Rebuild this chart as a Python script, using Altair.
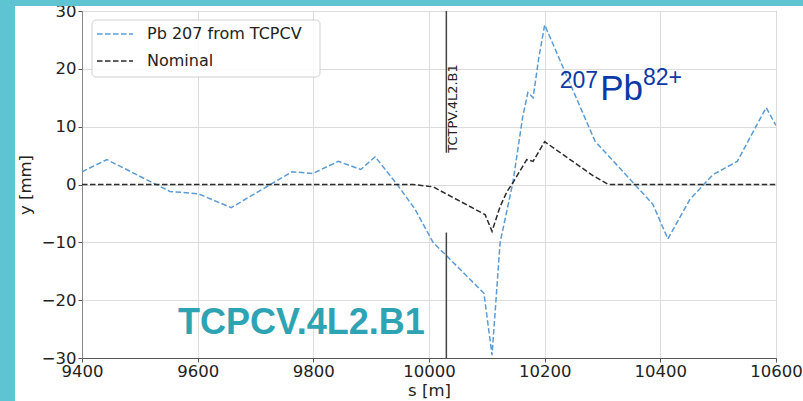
import altair as alt
import pandas as pd

# ---- data ----
s_pb = [9400, 9443, 9552, 9601, 9658, 9763, 9799, 9843, 9882, 9907, 9945, 9976,
        10007, 10095, 10109, 10123, 10145, 10162, 10171, 10180, 10190, 10200,
        10287, 10387, 10413, 10451, 10491, 10533, 10583, 10600]
y_pb = [2.2, 4.3, -1.2, -1.6, -4.0, 2.2, 1.9, 4.0, 2.6, 4.8, 0.0, -4.3,
        -10.0, -18.8, -29.5, -10.0, 0.3, 11.7, 15.9, 15.0, 22.0, 27.6,
        7.5, -3.4, -9.4, -2.6, 1.7, 4.0, 13.3, 10.2]

s_nom = [9400, 9972, 10007, 10097, 10109, 10123, 10135, 10145, 10169, 10180,
         10200, 10284, 10310, 10600]
y_nom = [0.0, 0.0, -0.4, -5.2, -8.1, -3.8, -1.2, 0.3, 4.3, 4.0,
         7.4, 1.5, 0.0, 0.0]

x_ticks = [9400, 9600, 9800, 10000, 10200, 10400, 10600]
y_ticks = [-30, -20, -10, 0, 10, 20, 30]

series_names = ["Pb 207 from TCPCV", "Nominal"]
series_colors = ["#5b9bd5", "#2b2b2b"]

marker_label = "TCTPV.4L2.B1"
marker_s = [10030, 10030]
marker_y_from = [30, -8.3]
marker_y_to = [5.5, -30]

TEAL = "#5ec4d2"
TEAL_TEXT = "#2ea3b3"
DARK_BLUE = "#0b39a6"

df_pb = pd.DataFrame({"s": s_pb, "y": y_pb})
df_nom = pd.DataFrame({"s": s_nom, "y": y_nom})
df_mark = pd.DataFrame({"s": marker_s, "y": marker_y_from, "y2": marker_y_to})
df_mtext = pd.DataFrame({"s": [marker_s[0]], "y": [marker_y_to[0]], "t": [marker_label]})

xscale = alt.Scale(domain=[9400, 10600], nice=False, zero=False)
yscale = alt.Scale(domain=[-30, 30], nice=False, zero=False)

X = alt.X("s:Q", scale=xscale,
          axis=alt.Axis(values=x_ticks, format="d", title="s [m]",
                        labelPadding=1, titlePadding=3, domainColor="#555",
                        labelFlush=False, labelOverlap=False, labelBound=False))
Y = alt.Y("y:Q", scale=yscale,
          axis=alt.Axis(values=y_ticks, format="d", title="y [mm]",
                        labelPadding=2, titlePadding=8, domainColor="#888",
                        labelFlush=False, labelOverlap=False, labelBound=False))

dash = [5.5, 2.5]

line_pb = alt.Chart(df_pb).mark_line(
    color=series_colors[0], strokeWidth=1.5, strokeDash=dash, clip=True
).encode(x=X, y=Y)

line_nom = alt.Chart(df_nom).mark_line(
    color=series_colors[1], strokeWidth=1.5, strokeDash=dash, clip=True
).encode(x="s:Q", y="y:Q")

rules = alt.Chart(df_mark).mark_rule(color="#444", strokeWidth=1.5).encode(
    x="s:Q", y="y:Q", y2="y2:Q")

mtext = alt.Chart(df_mtext).mark_text(
    angle=270, align="left", baseline="top", dy=1,
    font="DejaVu Sans", fontSize=13, color="#222"
).encode(x="s:Q", y="y:Q", text="t:N")

# annotations
ann_df = pd.DataFrame({
    "s": [9566, 10226, 10296, 10370],
    "y": [-25.9, 16.7, 14.66, 17.2],
    "t": ["TCPCV.4L2.B1", "207", "Pb", "82+"],
})
ann_tc = alt.Chart(ann_df.iloc[[0]]).mark_text(
    align="left", baseline="alphabetic", font="Liberation Sans",
    fontWeight="bold", fontSize=36, color=TEAL_TEXT
).encode(x="s:Q", y="y:Q", text="t:N")
ann_sup = alt.Chart(ann_df.iloc[[1, 3]]).mark_text(
    align="left", baseline="alphabetic", font="Liberation Sans",
    fontSize=23, color=DARK_BLUE
).encode(x="s:Q", y="y:Q", text="t:N")
ann_pb = alt.Chart(ann_df.iloc[[2]]).mark_text(
    align="left", baseline="alphabetic", font="Liberation Sans",
    fontSize=35, color=DARK_BLUE
).encode(x="s:Q", y="y:Q", text="t:N")

# legend (drawn manually)
leg_box = alt.Chart().mark_rect(
    fill="white", fillOpacity=0.85, stroke="#d0d0d0", strokeWidth=1, cornerRadius=4
).encode(x=alt.value(10), x2=alt.value(238), y=alt.value(9), y2=alt.value(66))
leg_l1 = alt.Chart().mark_rule(color=series_colors[0], strokeWidth=1.5, strokeDash=dash).encode(
    x=alt.value(15), x2=alt.value(51), y=alt.value(23))
leg_l2 = alt.Chart().mark_rule(color=series_colors[1], strokeWidth=1.5, strokeDash=dash).encode(
    x=alt.value(15), x2=alt.value(51), y=alt.value(50))
leg_t1 = alt.Chart().mark_text(align="left", baseline="middle", font="DejaVu Sans",
                               fontSize=16, color="#222").encode(
    x=alt.value(65), y=alt.value(23), text=alt.value(series_names[0]))
leg_t2 = alt.Chart().mark_text(align="left", baseline="middle", font="DejaVu Sans",
                               fontSize=16, color="#222").encode(
    x=alt.value(65), y=alt.value(50), text=alt.value(series_names[1]))

# slide frame (teal bands)
band_left = alt.Chart().mark_rect(color=TEAL).encode(
    x=alt.value(-82), x2=alt.value(-67), y=alt.value(-11), y2=alt.value(395))
band_top = alt.Chart().mark_rect(color=TEAL).encode(
    x=alt.value(-82), x2=alt.value(721), y=alt.value(-11), y2=alt.value(-5))

chart = alt.layer(
    line_pb, line_nom, rules, mtext, ann_tc, ann_sup, ann_pb,
    leg_box, leg_l1, leg_l2, leg_t1, leg_t2, band_left, band_top
).properties(
    width=694, height=347, autosize="none",
    padding={"left": 82, "top": 11, "right": 27, "bottom": 43},
    background="white"
).configure_view(
    stroke="#999", strokeWidth=1
).configure_axis(
    grid=True, gridColor="#dcdcdc", gridWidth=1,
    tickColor="#555", tickSize=4, tickWidth=1,
    labelFont="DejaVu Sans", labelFontSize=16.5, labelColor="#222",
    titleFont="DejaVu Sans", titleFontSize=16.5, titleFontWeight="normal",
    titleColor="#222"
)

chart.save("out.html", embed_options={"renderer": "svg", "actions": False})
